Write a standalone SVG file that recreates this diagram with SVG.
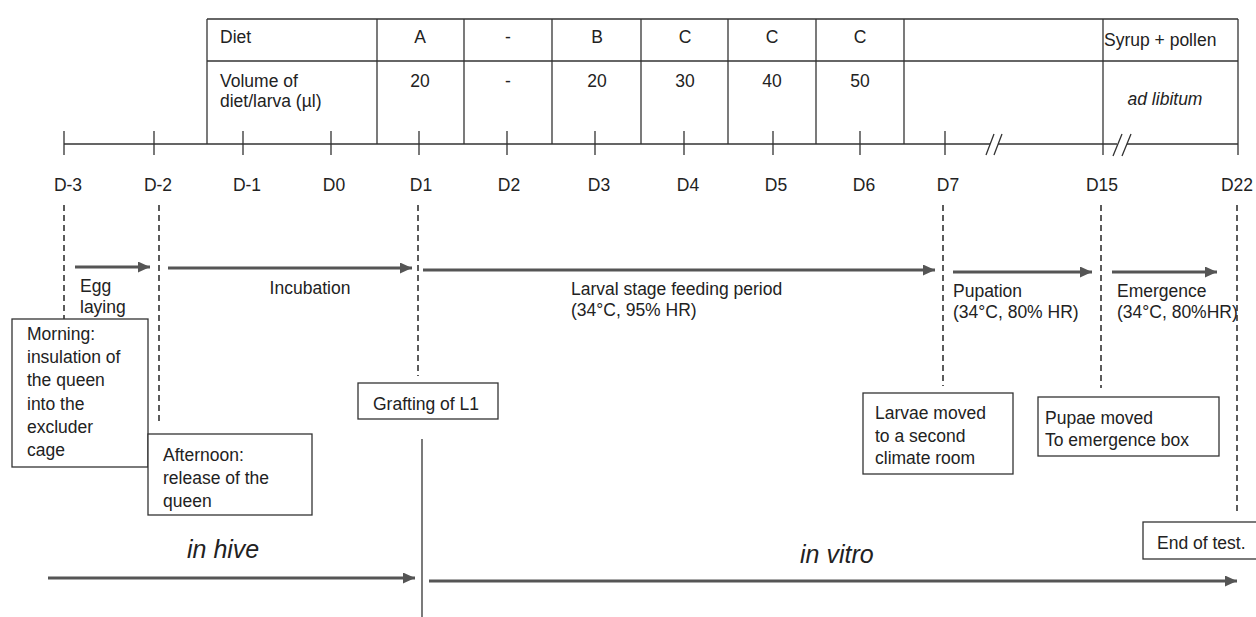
<svg xmlns="http://www.w3.org/2000/svg" width="1256" height="617" viewBox="0 0 1256 617">
<style>
  text { font-family: "Liberation Sans", Arial, sans-serif; font-size: 17.5px; fill: #222; }
  .c { text-anchor: middle; }
  .it { font-style: italic; }
  .big { font-size: 25px; }
  .ln { stroke: #333; stroke-width: 1.3; fill: none; }
  .box { stroke: #333; stroke-width: 1.3; fill: #fff; }
  .dash { stroke: #333; stroke-width: 1.6; stroke-dasharray: 6 4; fill: none; }
  .arr { stroke: #555; stroke-width: 3; fill: none; marker-end: url(#ah); }
</style>
<defs>
  <marker id="ah" markerUnits="userSpaceOnUse" markerWidth="13" markerHeight="12" refX="12" refY="5.5" orient="auto">
    <path d="M0,0 L12,5.5 L0,11 z" fill="#555"/>
  </marker>
</defs>
<rect width="1256" height="617" fill="#fff"/>

<g id="table">
  <line class="ln" x1="207" y1="19" x2="1238" y2="19"/>
  <line class="ln" x1="207" y1="61" x2="1238" y2="61"/>
  <line class="ln" x1="207" y1="19" x2="207" y2="144"/>
  <line class="ln" x1="377" y1="19" x2="377" y2="144"/>
  <line class="ln" x1="464" y1="19" x2="464" y2="144"/>
  <line class="ln" x1="552" y1="19" x2="552" y2="144"/>
  <line class="ln" x1="641" y1="19" x2="641" y2="144"/>
  <line class="ln" x1="728" y1="19" x2="728" y2="144"/>
  <line class="ln" x1="816" y1="19" x2="816" y2="144"/>
  <line class="ln" x1="904" y1="19" x2="904" y2="144"/>
  <line class="ln" x1="1103" y1="19" x2="1103" y2="144"/>
  <line class="ln" x1="1238" y1="19" x2="1238" y2="144"/>
  <text x="220" y="43">Diet</text>
  <text x="220" y="87">Volume of</text>
  <text x="220" y="107">diet/larva (µl)</text>
  <text class="c" x="420" y="43">A</text>
  <text class="c" x="508" y="43">-</text>
  <text class="c" x="597" y="43">B</text>
  <text class="c" x="685" y="43">C</text>
  <text class="c" x="772" y="43">C</text>
  <text class="c" x="860" y="43">C</text>
  <text x="1104" y="46">Syrup + pollen</text>
  <text class="c" x="420" y="87">20</text>
  <text class="c" x="508" y="87">-</text>
  <text class="c" x="597" y="87">20</text>
  <text class="c" x="685" y="87">30</text>
  <text class="c" x="772" y="87">40</text>
  <text class="c" x="860" y="87">50</text>
  <text class="c it" x="1165" y="105">ad libitum</text>
</g>

<g id="axis">
  <path class="ln" d="M64,144 H990 M998,144 H1117 M1127,144 H1238"/>
  <path class="ln" d="M986,155 L994,134 M994,155 L1002,134 M1113,156 L1122,134 M1122,156 L1131,134"/>
  <path class="ln" d="M64,131 V155 M154,131 V155 M243,131 V155 M331,131 V155 M419,131 V155 M507,131 V155 M595,131 V155 M684,131 V155 M773,131 V155 M860,131 V155 M945,131 V155 M1103,144 V155 M1238,144 V155"/>
  <text class="c" x="68" y="191">D-3</text>
  <text class="c" x="158" y="191">D-2</text>
  <text class="c" x="247" y="191">D-1</text>
  <text class="c" x="334" y="191">D0</text>
  <text class="c" x="421" y="191">D1</text>
  <text class="c" x="509" y="191">D2</text>
  <text class="c" x="599" y="191">D3</text>
  <text class="c" x="688" y="191">D4</text>
  <text class="c" x="776" y="191">D5</text>
  <text class="c" x="864" y="191">D6</text>
  <text class="c" x="948" y="191">D7</text>
  <text class="c" x="1102" y="191">D15</text>
  <text class="c" x="1237" y="191">D22</text>
</g>

<g id="connectors">
  <line class="dash" x1="64" y1="205" x2="64" y2="319"/>
  <line class="dash" x1="159" y1="205" x2="159" y2="422"/>
  <line class="dash" x1="418" y1="205" x2="418" y2="376"/>
  <line class="dash" x1="943" y1="205" x2="943" y2="386"/>
  <line class="dash" x1="1101" y1="205" x2="1101" y2="388"/>
  <line class="dash" x1="1237" y1="205" x2="1237" y2="513"/>
  <line class="ln" x1="422" y1="439" x2="422" y2="617"/>
  <line class="arr" x1="75" y1="267" x2="150" y2="267"/>
  <line class="arr" x1="168" y1="268" x2="412" y2="268"/>
  <line class="arr" x1="423" y1="270" x2="935" y2="270"/>
  <line class="arr" x1="953" y1="272" x2="1092" y2="272"/>
  <line class="arr" x1="1112" y1="272" x2="1217" y2="272"/>
  <line class="arr" x1="48" y1="578" x2="415" y2="578"/>
  <line class="arr" x1="429" y1="581" x2="1237" y2="581"/>
</g>

<g id="phase-labels">
  <text x="80" y="292">Egg</text>
  <text x="80" y="313">laying</text>
  <text class="c" x="310" y="294">Incubation</text>
  <text x="571" y="295">Larval stage feeding period</text>
  <text x="571" y="316">(34°C, 95% HR)</text>
  <text x="953" y="297">Pupation</text>
  <text x="953" y="318">(34°C, 80% HR)</text>
  <text x="1117" y="297">Emergence</text>
  <text x="1117" y="318">(34°C, 80%HR)</text>
  <text class="it big" x="187" y="558">in hive</text>
  <text class="it big" x="800" y="563">in vitro</text>
</g>

<g id="morning">
  <rect class="box" x="12" y="319" width="136" height="148"/>
  <text x="27" y="340">Morning:</text>
  <text x="27" y="363">insulation of</text>
  <text x="27" y="386">the queen</text>
  <text x="27" y="410">into the</text>
  <text x="27" y="433">excluder</text>
  <text x="27" y="456">cage</text>
</g>
<g id="afternoon">
  <rect class="box" x="148" y="434" width="164" height="81"/>
  <text x="163" y="461">Afternoon:</text>
  <text x="163" y="484">release of the</text>
  <text x="163" y="507">queen</text>
</g>
<g id="grafting">
  <rect class="box" x="358" y="383" width="140" height="36"/>
  <text x="373" y="410">Grafting of L1</text>
</g>
<g id="larvae-moved">
  <rect class="box" x="863" y="393" width="150" height="81"/>
  <text x="875" y="419">Larvae moved</text>
  <text x="875" y="442">to a second</text>
  <text x="875" y="464">climate room</text>
</g>
<g id="pupae-moved">
  <rect class="box" x="1038" y="397" width="181" height="59"/>
  <text x="1045" y="424">Pupae moved</text>
  <text x="1045" y="446">To emergence box</text>
</g>
<g id="end-of-test">
  <rect class="box" x="1143" y="522" width="120" height="37"/>
  <text x="1157" y="549">End of test.</text>
</g>
</svg>
